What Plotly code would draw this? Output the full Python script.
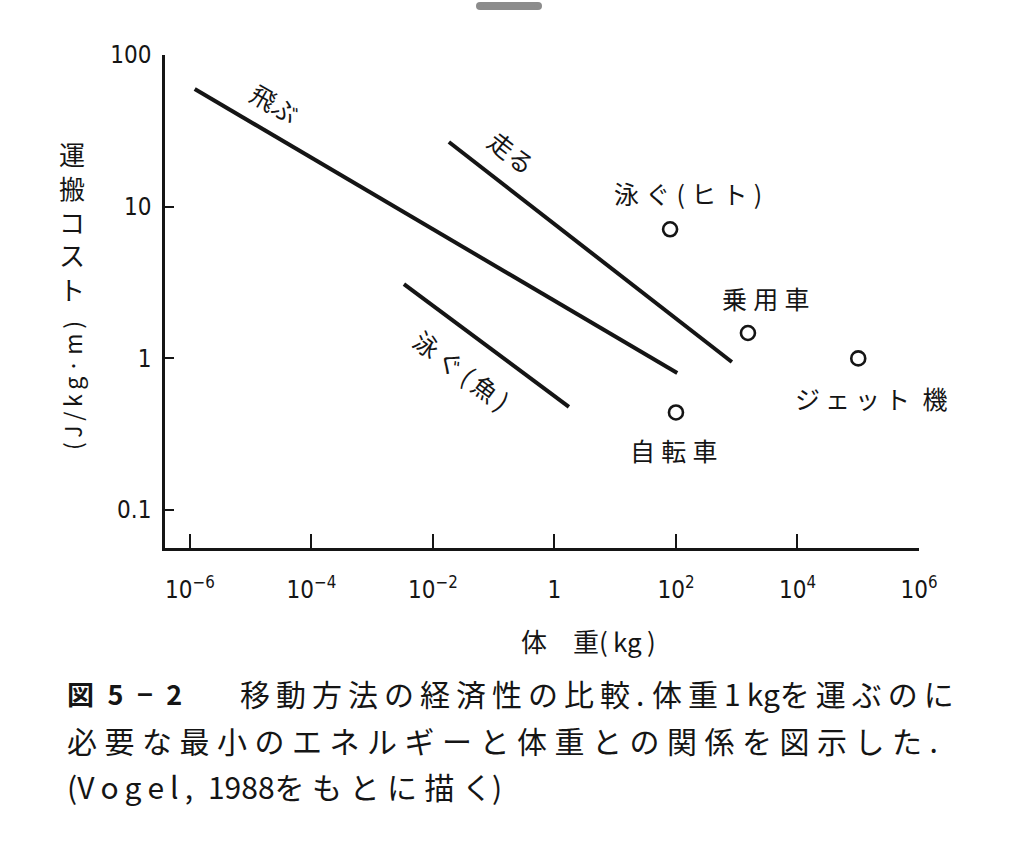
import plotly.graph_objects as go

# ---- data ----
fly_mass = [1.2e-6, 105]
fly_cost = [59.7, 0.80]
run_mass = [0.0183, 832]
run_cost = [26.7, 0.946]
fish_mass = [3.33e-3, 1.73]
fish_cost = [3.09, 0.479]

point_names = ["泳ぐ(ヒト)", "乗用車", "ジェット機", "自転車"]
point_mass = [80, 1530, 1.0e5, 100]
point_cost = [7.1, 1.47, 1.0, 0.44]

x_tickvals = [1e-6, 1e-4, 1e-2, 1, 1e2, 1e4, 1e6]
x_ticktext = ["10<sup>−6</sup>", "10<sup>−4</sup>", "10<sup>−2</sup>", "1",
              "10<sup>2</sup>", "10<sup>4</sup>", "10<sup>6</sup>"]
y_tickvals = [0.1, 1, 10, 100]
y_ticktext = ["0.1", "1", "10", "100"]

W, H = 1024, 858
JP = "Noto Sans CJK JP, sans-serif"
NUM = "Liberation Sans Narrow, DejaVu Sans Condensed, Arial Narrow, sans-serif"
INK = "#151515"
TS = "\u2009"   # thin space
QS = "\u2005"   # four-per-em space

fig = go.Figure()
for xs, ys in [(fly_mass, fly_cost), (run_mass, run_cost), (fish_mass, fish_cost)]:
    fig.add_trace(go.Scatter(x=xs, y=ys, mode="lines",
                             line=dict(color=INK, width=4), showlegend=False,
                             hoverinfo="skip"))
fig.add_trace(go.Scatter(x=point_mass, y=point_cost, mode="markers",
                         marker=dict(symbol="circle-open", size=14,
                                     line=dict(color=INK, width=2.6), color=INK),
                         showlegend=False, text=point_names))

def px2paper(x, y):
    return x / W, 1 - y / H

ann = []
# labels along lines (x, y in log10 units for log axes)
line_labels = [("飛ぶ", -4.60, 1.684, 30), ("走る", -0.70, 1.36, 38),
               (TS.join("泳ぐ(魚)"), -1.52, -0.077, 37)]
for t, lx, ly, ang in line_labels:
    ann.append(dict(x=lx, y=ly, xref="x", yref="y", text=t, showarrow=False,
                    xanchor="center", yanchor="middle",
                    textangle=ang, font=dict(family=JP, size=25, color=INK)))
point_label_text = [QS.join("泳ぐ(ヒト)"), QS.join("乗用車"),
                    TS.join("ジェット") + "\u2002機", QS.join("自転車")]
point_label_pos = [(2.20, 1.09), (3.48, 0.398), (5.21, -0.261), (1.967, -0.604)]
for t, (lx, ly) in zip(point_label_text, point_label_pos):
    ann.append(dict(x=lx, y=ly, xref="x", yref="y", text=t,
                    xanchor="center", yanchor="middle",
                    showarrow=False, font=dict(family=JP, size=25, color=INK)))

# y-axis title: upright kana/kanji stacked, units rotated
xp, yp = px2paper(72, 221)
ann.append(dict(x=xp, y=yp, xref="paper", yref="paper", text="<br>".join("運搬コスト"),
                xanchor="center", yanchor="middle",
                showarrow=False, font=dict(family=JP, size=26, color=INK)))
xp, yp = px2paper(72, 386)
ann.append(dict(x=xp, y=yp, xref="paper", yref="paper", text=TS.join("(J/kg·m)"), showarrow=False,
                xanchor="center", yanchor="middle",
                textangle=-90, font=dict(family=JP, size=23, color=INK)))

# x-axis title
xp, yp = px2paper(588, 640)
ann.append(dict(x=xp, y=yp, xref="paper", yref="paper",
                text="体\u2003重(" + TS + "kg" + TS + ")", showarrow=False,
                xanchor="center", yanchor="middle",
                font=dict(family=JP, size=26, color=INK)))

# caption
cap = [
    (65, 693, "<b>図\u20025\u2002−\u20022</b>", 27, "left"),
    (238, 693, TS.join("移動方法の経済性の比較."), 30, "left"),
    (956, 693, "体" + TS + "重" + TS + "1" + TS + "kg" + TS.join("を運ぶのに"), 30, "right"),
    (65, 740, QS.join("必要な最小のエネルギーと体重との関係を図示した."), 30, "left"),
    (65, 786, "(" + TS.join("Vogel,") + "\u2002" + "1988" + QS.join("をもとに描く") + ")", 30, "left"),
]
for x0, y0, t, fs, anc in cap:
    xp, yp = px2paper(x0, y0)
    ann.append(dict(x=xp, y=yp, xref="paper", yref="paper", text=t, showarrow=False,
                    xanchor=anc, yanchor="middle",
                    font=dict(family=JP, size=fs, color=INK)))

# phone-ui pill at the top
shapes = []
x0, y0 = px2paper(480, 2)
x1, y1 = px2paper(538, 10)
shapes.append(dict(type="rect", xref="paper", yref="paper", x0=x0, x1=x1, y0=y1, y1=y0,
                   fillcolor="#8c8c8c", line=dict(width=0), layer="above"))
for cx in (480, 538):
    a0, b0 = px2paper(cx - 4, 2)
    a1, b1 = px2paper(cx + 4, 10)
    shapes.append(dict(type="circle", xref="paper", yref="paper", x0=a0, x1=a1, y0=b1, y1=b0,
                       fillcolor="#8c8c8c", line=dict(width=0)))

fig.update_layout(
    width=W, height=H, margin=dict(l=0, r=0, t=0, b=0, autoexpand=False),
    paper_bgcolor="white", plot_bgcolor="white",
    annotations=ann, shapes=shapes,
    xaxis=dict(type="log", range=[-6.41, 6.0], domain=[165 / W, 919 / W],
               showgrid=False, zeroline=False, showline=True, linecolor=INK, linewidth=2.6,
               ticks="inside", ticklen=14, tickwidth=2.2, tickcolor=INK,
               tickvals=x_tickvals, ticktext=x_ticktext, automargin=False,
               tickfont=dict(family=NUM, size=24, color=INK), ticklabelstandoff=18),
    yaxis=dict(type="log", range=[-1.25, 2.0], domain=[1 - 548 / H, 1 - 55 / H],
               showgrid=False, zeroline=False, showline=True, linecolor=INK, linewidth=2.6,
               ticks="inside", ticklen=9, tickwidth=2.2, tickcolor=INK,
               tickvals=y_tickvals, ticktext=y_ticktext, automargin=False,
               tickfont=dict(family=NUM, size=24, color=INK), ticklabelstandoff=6),
)

fig.write_html("out.html",
               post_script="document.body.style.margin='0';document.body.style.overflow='hidden';")
